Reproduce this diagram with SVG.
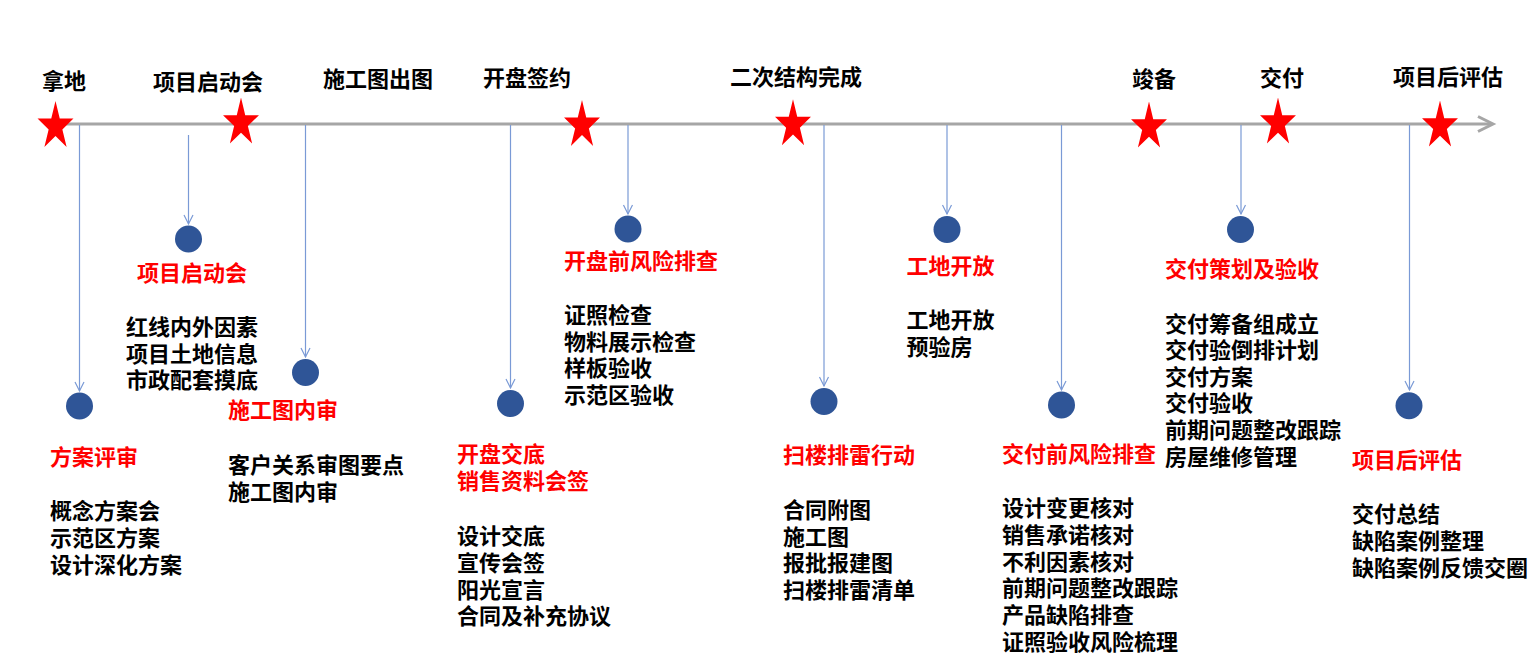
<svg xmlns="http://www.w3.org/2000/svg" xmlns:xlink="http://www.w3.org/1999/xlink" width="1536" height="671" viewBox="0 0 1536 671">
<style>
text{font-family:"Noto Sans CJK SC","Noto Sans",sans-serif;font-weight:bold;font-size:22px;}
.blk{fill:#000000;}
.red{fill:#ff0000;}
.dot{fill:#2f5597;}
.star{fill:#ff0000;}
.conn{stroke:#7a9ad6;stroke-width:1.2;fill:none;marker-end:url(#arr);}
.axis{stroke:#a6a6a6;stroke-width:3;fill:none;}
</style>
<defs>
<marker id="arr" markerUnits="userSpaceOnUse" markerWidth="12" markerHeight="12" viewBox="-6 -11 12 12" refX="0" refY="0" orient="auto-start-reverse" overflow="visible">
<path d="M-9,-4.5 L0,0 L-9,4.5" fill="none" stroke="#7a9ad6" stroke-width="1.2"/>
</marker>
<polygon id="star" points="0,-25.4 4.24,-7.85 17.97,-7.85 6.86,3 11.11,20.55 0,9.7 -11.11,20.55 -6.86,3 -17.97,-7.85 -4.24,-7.85"/>
</defs>
<rect width="1536" height="671" fill="#ffffff"/>
<g id="axis">
<line class="axis" x1="55" y1="124" x2="1492" y2="124"/>
<polyline class="axis" points="1478,116.5 1493,124 1478,131.5" stroke-linejoin="miter"/>
</g>
<g id="connectors">
<line class="conn" x1="79.5" y1="125" x2="79.5" y2="391"/>
<line class="conn" x1="188.5" y1="135" x2="188.5" y2="224"/>
<line class="conn" x1="305.5" y1="125" x2="305.5" y2="357"/>
<line class="conn" x1="510.5" y1="125" x2="510.5" y2="388"/>
<line class="conn" x1="628" y1="125" x2="628" y2="214"/>
<line class="conn" x1="824" y1="125" x2="824" y2="386"/>
<line class="conn" x1="947" y1="125" x2="947" y2="214"/>
<line class="conn" x1="1061.5" y1="125" x2="1061.5" y2="390"/>
<line class="conn" x1="1241" y1="125" x2="1241" y2="214"/>
<line class="conn" x1="1409.5" y1="125" x2="1409.5" y2="390"/>
</g>
<g id="milestone-nadi"><use href="#star" class="star" x="55.5" y="126.4"/><text class="blk" x="42" y="88.7">拿地</text></g>
<g id="milestone-qidong"><use href="#star" class="star" x="241" y="123"/><text class="blk" x="153" y="89.7">项目启动会</text></g>
<g id="milestone-chutu"><text class="blk" x="323" y="87.4">施工图出图</text></g>
<g id="milestone-kaipan"><use href="#star" class="star" x="582" y="125.4"/><text class="blk" x="483" y="86">开盘签约</text></g>
<g id="milestone-erci"><use href="#star" class="star" x="793" y="124.7"/><text class="blk" x="730" y="85">二次结构完成</text></g>
<g id="milestone-junbei"><use href="#star" class="star" x="1149" y="127"/><text class="blk" x="1132" y="86.5">竣备</text></g>
<g id="milestone-jiaofu"><use href="#star" class="star" x="1278" y="123"/><text class="blk" x="1260" y="86">交付</text></g>
<g id="milestone-houpinggu"><use href="#star" class="star" x="1440" y="126"/><text class="blk" x="1393" y="84.5">项目后评估</text></g>

<g id="node-fangan">
<circle class="dot" cx="79.5" cy="406" r="13.5"/>
<text class="red" x="50" y="465.4">方案评审</text>
<text class="blk" x="50" y="519.4">概念方案会</text>
<text class="blk" x="50" y="546">示范区方案</text>
<text class="blk" x="50" y="572.6">设计深化方案</text>
</g>
<g id="node-qidong">
<circle class="dot" cx="188.5" cy="239" r="13.5"/>
<text class="red" x="137" y="280.8">项目启动会</text>
<text class="blk" x="126" y="335">红线内外因素</text>
<text class="blk" x="126" y="361.6">项目土地信息</text>
<text class="blk" x="126" y="388.3">市政配套摸底</text>
</g>
<g id="node-neishen">
<circle class="dot" cx="305.5" cy="372.5" r="13.5"/>
<text class="red" x="228" y="418">施工图内审</text>
<text class="blk" x="228" y="473">客户关系审图要点</text>
<text class="blk" x="228" y="499.6">施工图内审</text>
</g>
<g id="node-jiaodi">
<circle class="dot" cx="510.5" cy="403.5" r="13.5"/>
<text class="red" x="457" y="462.4">开盘交底</text>
<text class="red" x="457" y="489.2">销售资料会签</text>
<text class="blk" x="457" y="544.4">设计交底</text>
<text class="blk" x="457" y="571">宣传会签</text>
<text class="blk" x="457" y="597.6">阳光宣言</text>
<text class="blk" x="457" y="624.3">合同及补充协议</text>
</g>
<g id="node-kaipanqian">
<circle class="dot" cx="628" cy="229" r="13.5"/>
<text class="red" x="564" y="269.4">开盘前风险排查</text>
<text class="blk" x="564" y="323">证照检查</text>
<text class="blk" x="564" y="349.6">物料展示检查</text>
<text class="blk" x="564" y="376.3">样板验收</text>
<text class="blk" x="564" y="403">示范区验收</text>
</g>
<g id="node-saolou">
<circle class="dot" cx="824" cy="401.5" r="13.5"/>
<text class="red" x="783" y="463.4">扫楼排雷行动</text>
<text class="blk" x="783" y="518">合同附图</text>
<text class="blk" x="783" y="544.6">施工图</text>
<text class="blk" x="783" y="571.3">报批报建图</text>
<text class="blk" x="783" y="598">扫楼排雷清单</text>
</g>
<g id="node-gongdi">
<circle class="dot" cx="947" cy="229.5" r="13.5"/>
<text class="red" x="906.5" y="274.4">工地开放</text>
<text class="blk" x="906.5" y="328.4">工地开放</text>
<text class="blk" x="906.5" y="355">预验房</text>
</g>
<g id="node-jiaofuqian">
<circle class="dot" cx="1061.5" cy="405" r="13.5"/>
<text class="red" x="1002" y="462.4">交付前风险排查</text>
<text class="blk" x="1002" y="516.4">设计变更核对</text>
<text class="blk" x="1002" y="543">销售承诺核对</text>
<text class="blk" x="1002" y="569.6">不利因素核对</text>
<text class="blk" x="1002" y="596.3">前期问题整改跟踪</text>
<text class="blk" x="1002" y="623">产品缺陷排查</text>
<text class="blk" x="1002" y="649.6">证照验收风险梳理</text>
</g>
<g id="node-cehua">
<circle class="dot" cx="1240.5" cy="229.5" r="13.5"/>
<text class="red" x="1165" y="277">交付策划及验收</text>
<text class="blk" x="1165" y="332.4">交付筹备组成立</text>
<text class="blk" x="1165" y="358.4">交付验倒排计划</text>
<text class="blk" x="1165" y="384.8">交付方案</text>
<text class="blk" x="1165" y="411.4">交付验收</text>
<text class="blk" x="1165" y="438">前期问题整改跟踪</text>
<text class="blk" x="1165" y="464.7">房屋维修管理</text>
</g>
<g id="node-houpinggu">
<circle class="dot" cx="1409" cy="405.7" r="13.5"/>
<text class="red" x="1352" y="467.8">项目后评估</text>
<text class="blk" x="1352" y="522.4">交付总结</text>
<text class="blk" x="1352" y="549">缺陷案例整理</text>
<text class="blk" x="1352" y="575.6">缺陷案例反馈交圈</text>
</g>
</svg>
